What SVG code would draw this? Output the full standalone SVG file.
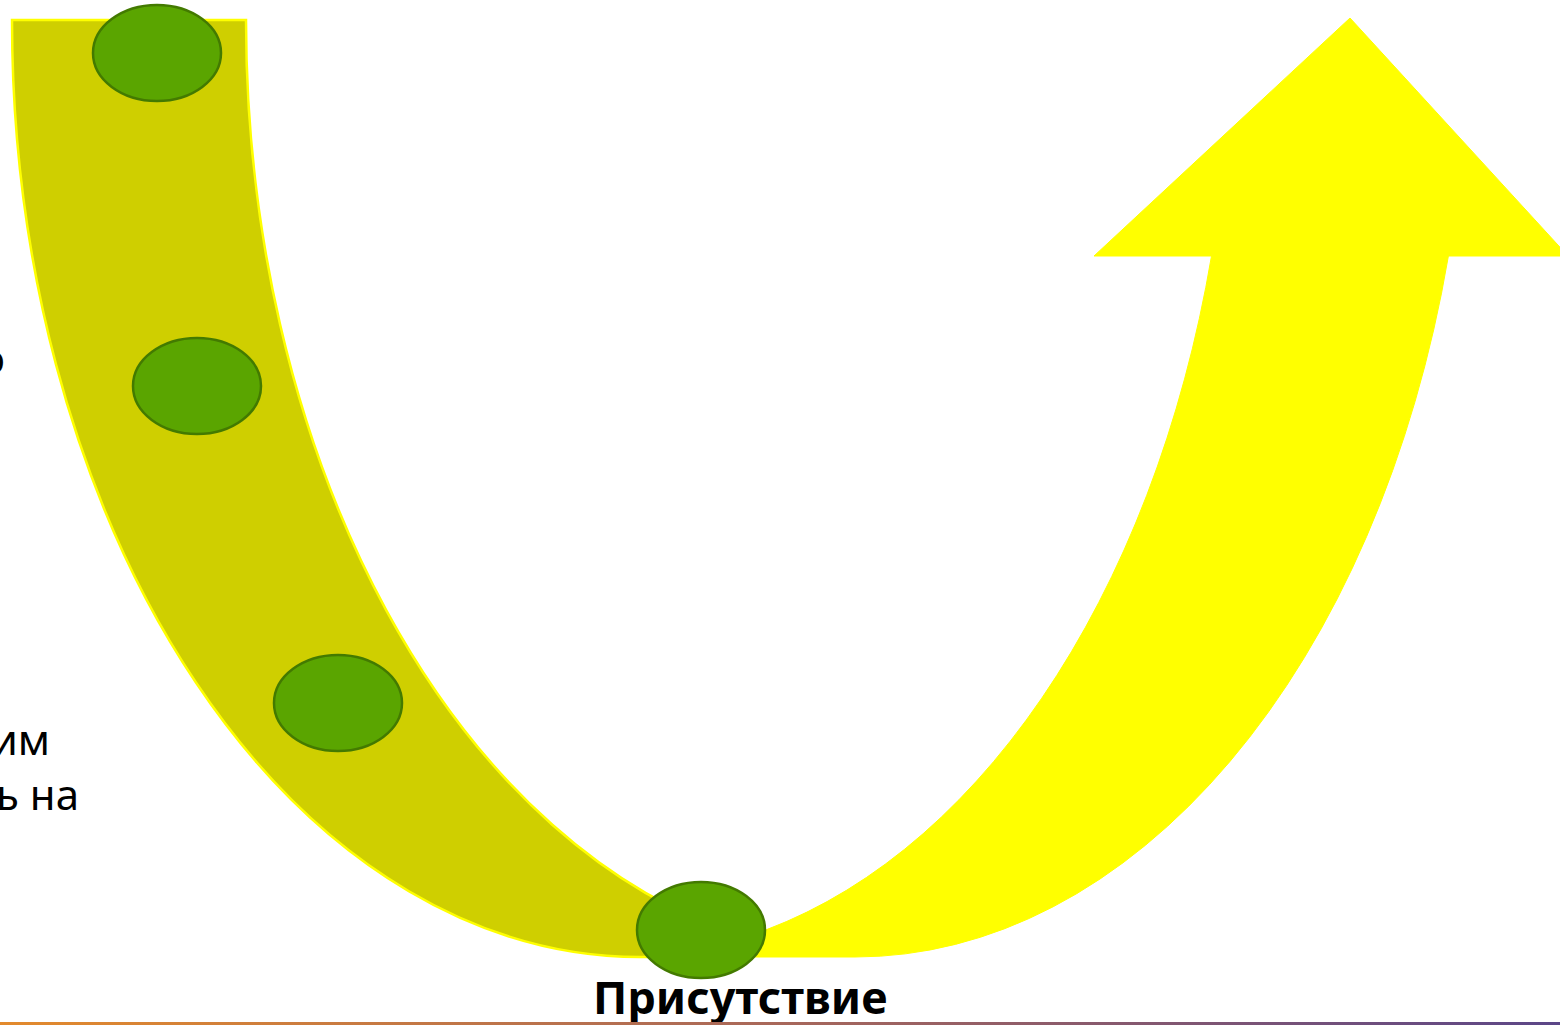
<svg xmlns="http://www.w3.org/2000/svg" width="1560" height="1025" viewBox="0 0 1560 1025">
  <defs>
    <linearGradient id="footerGrad" x1="0" y1="0" x2="1" y2="0">
      <stop offset="0" stop-color="#e38a2c"/>
      <stop offset="0.5" stop-color="#a8675a"/>
      <stop offset="1" stop-color="#5b4688"/>
    </linearGradient>
  </defs>
  <style>
    .back { fill: #cfcf00; stroke: #ffff00; stroke-width: 2.5; stroke-linejoin: miter; }
    .front { fill: #ffff00; stroke: #ffff00; stroke-width: 1; }
    .dot { fill: #5aa500; stroke: #437a00; stroke-width: 2.5; }
    .label { font-family: "Noto Sans", "Liberation Sans", sans-serif; font-weight: bold; font-size: 45px; fill: #000000; }
    .side { font-family: "Noto Sans", "Liberation Sans", sans-serif; font-size: 42px; fill: #000000; }
  </style>
  <rect x="0" y="0" width="1560" height="1025" fill="#ffffff"/>

  <g id="side-text">
    <text class="side" x="5" y="374" text-anchor="end">о</text>
    <text class="side" x="50" y="755" text-anchor="end">им</text>
    <text class="side" x="79" y="810" text-anchor="end">ь на</text>
  </g>

  <g id="curved-arrow">
    <path id="arrow-back" class="back" d="M12,20 H246 A628 937 0 0 0 744.9,937 L744.9,957 L640,957 A628 937 0 0 1 12,20 Z"/>
    <path id="arrow-front" class="front" d="M744.9,957 L855,957 A613 937 0 0 0 1448.4,256 L1568,256 L1350,18 L1094,256 L1211.5,256 A611 937 0 0 1 745.6,937 Z"/>
  </g>

  <g id="node-1"><ellipse class="dot" cx="157" cy="53" rx="64" ry="48"/></g>
  <g id="node-2"><ellipse class="dot" cx="197" cy="386" rx="64" ry="48"/></g>
  <g id="node-3"><ellipse class="dot" cx="338" cy="703" rx="64" ry="48"/></g>
  <g id="node-4"><ellipse class="dot" cx="701" cy="930" rx="64" ry="48"/></g>

  <g id="label-presence">
    <text class="label" x="593" y="1014">Присутствие</text>
  </g>

  <g id="footer">
    <rect x="0" y="1022" width="1560" height="3" fill="url(#footerGrad)"/>
  </g>
</svg>
